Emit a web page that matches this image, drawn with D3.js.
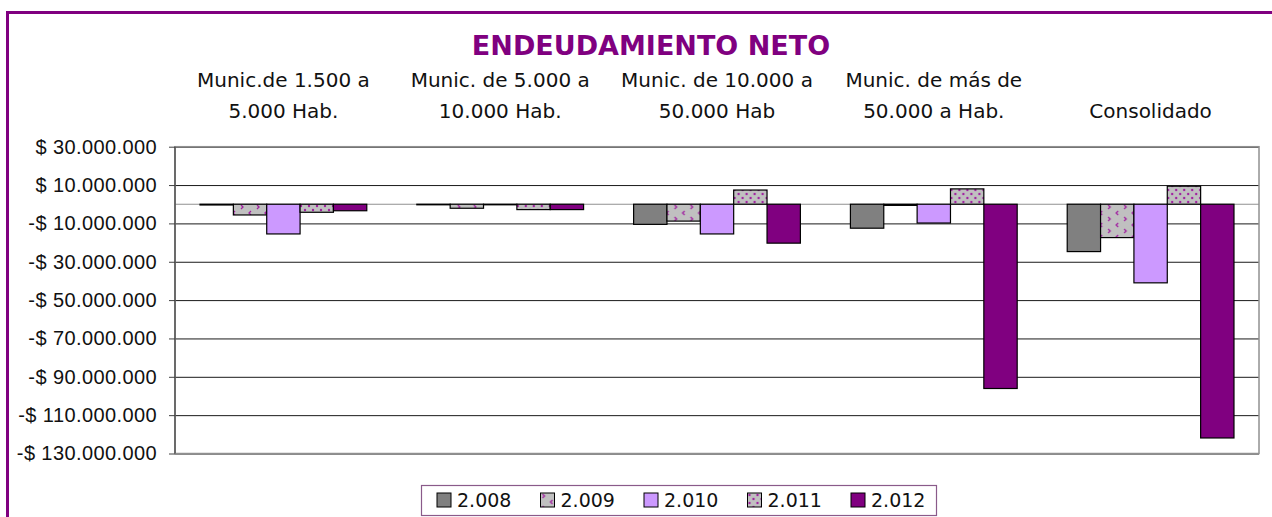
<!DOCTYPE html>
<html>
<head>
<meta charset="utf-8">
<script src="https://cdn.jsdelivr.net/npm/d3@7"></script>
<style>
  body { margin: 0; background: #fff; }
  svg { display: block; font-family: "DejaVu Sans", sans-serif; }
</style>
</head>
<body>
<svg id="chart" width="1272" height="517"></svg>
<script>
// ============
// DATA
// ============

const categories = [
  ["Munic.de 1.500 a", "5.000 Hab."],
  ["Munic. de 5.000 a", "10.000 Hab."],
  ["Munic. de 10.000 a", "50.000 Hab"],
  ["Munic. de más de", "50.000 a Hab."],
  ["", "Consolidado"]
];
const years = ["2.008", "2.009", "2.010", "2.011", "2.012"];

// values in millions, one array per year
const v2008 = [-0.4, -0.3, -10.5, -12.5, -24.7];
const v2009 = [-5.6, -2.1, -8.8, -0.6, -17.4];
const v2010 = [-15.5, -0.3, -15.5, -9.8, -41.0];
const v2011 = [-4.2, -2.8, 7.4, 8.0, 9.4];
const v2012 = [-3.4, -2.8, -20.3, -96.1, -121.9];
const series = [v2008, v2009, v2010, v2011, v2012];

const yTicks = [30, 10, -10, -30, -50, -70, -90, -110, -130];

const fills = ["#808080", "url(#pat2009)", "#cc99ff", "url(#pat2011)", "#800080"];

// ============
// SETUP
// ============

const svg = d3.select("#chart");
const plot = { left: 175, right: 1259, top: 146.7, bottom: 453.5 };

// purple frame (open to the right and bottom)
svg.append("rect")
  .attr("x", 7.5).attr("y", 12.5)
  .attr("width", 1300).attr("height", 600)
  .attr("fill", "none")
  .attr("stroke", "#800080")
  .attr("stroke-width", 3);

// patterns
const defs = svg.append("defs");

const p9 = defs.append("pattern")
  .attr("id", "pat2009")
  .attr("patternUnits", "userSpaceOnUse")
  .attr("width", 16).attr("height", 12);
p9.append("rect").attr("width", 16).attr("height", 12).attr("fill", "#c0c0c0");
p9.append("path").attr("d", "M2,1 L4,3 L2,5").attr("fill", "none").attr("stroke", "#a020a0").attr("stroke-width", 1.3);
p9.append("path").attr("d", "M12,7 L10,9 L12,11").attr("fill", "none").attr("stroke", "#a020a0").attr("stroke-width", 1.3);

const p11 = defs.append("pattern")
  .attr("id", "pat2011")
  .attr("patternUnits", "userSpaceOnUse")
  .attr("width", 8).attr("height", 8);
p11.append("rect").attr("width", 8).attr("height", 8).attr("fill", "#c0c0c0");
p11.append("circle").attr("cx", 2).attr("cy", 2).attr("r", 1.2).attr("fill", "#a020a0");
p11.append("circle").attr("cx", 6).attr("cy", 6).attr("r", 1.2).attr("fill", "#a020a0");

// ============
// TITLE
// ============

svg.append("text")
  .attr("x", 651).attr("y", 55)
  .attr("text-anchor", "middle")
  .attr("font-size", 27)
  .attr("font-weight", "bold")
  .attr("fill", "#800080")
  .text("ENDEUDAMIENTO NETO");

// ============
// SCALES
// ============

const x0 = d3.scaleBand()
  .domain(d3.range(categories.length))
  .range([plot.left, plot.right]);

const x1 = d3.scaleBand()
  .domain(years)
  .range([0, x0.bandwidth()])
  .paddingInner(0)
  .paddingOuter(0.75);

const y = d3.scaleLinear()
  .domain([-130, 30])
  .range([plot.bottom, plot.top]);

function money(d) {
  const s = d3.format(",")(Math.abs(d) * 1e6).replace(/,/g, ".");
  return (d < 0 ? "-$ " : "$ ") + s;
}

// ============
// GRIDLINES + AXIS
// ============

svg.append("g")
  .attr("transform", "translate(" + plot.left + ",0)")
  .call(d3.axisLeft(y).tickValues(yTicks).tickSize(-(plot.right - plot.left)).tickFormat(""))
  .call(g => g.select(".domain").remove())
  .call(g => g.selectAll("line").attr("stroke", "#1a1a1a").attr("stroke-width", 1));

// plot border
svg.append("rect")
  .attr("x", plot.left).attr("y", plot.top)
  .attr("width", plot.right - plot.left).attr("height", plot.bottom - plot.top)
  .attr("fill", "none").attr("stroke", "#909090").attr("stroke-width", 1.5);

// zero line
svg.append("line")
  .attr("x1", plot.left).attr("x2", plot.right)
  .attr("y1", y(0)).attr("y2", y(0))
  .attr("stroke", "#909090").attr("stroke-width", 1.2);

const yAxis = svg.append("g")
  .attr("transform", "translate(" + plot.left + ",0)")
  .call(d3.axisLeft(y).tickValues(yTicks).tickSize(6).tickPadding(12).tickFormat(money));
yAxis.select(".domain").attr("stroke", "#404040").attr("stroke-width", 1.2).attr("d", "M0," + plot.top + "V" + plot.bottom);
yAxis.selectAll("line").attr("stroke", "#404040");
yAxis.selectAll("text")
  .attr("font-size", 20)
  .attr("letter-spacing", 0.4)
  .attr("fill", "#111");

// ============
// BARS
// ============

const groups = svg.append("g")
  .selectAll("g")
  .data(categories.map((c, i) => i))
  .join("g")
  .attr("transform", i => "translate(" + x0(i) + ",0)");

groups.selectAll("rect")
  .data(i => years.map((yr, k) => ({ k: k, yr: yr, v: series[k][i] })))
  .join("rect")
  .attr("x", d => x1(d.yr))
  .attr("width", x1.bandwidth())
  .attr("y", d => y(Math.max(0, d.v)))
  .attr("height", d => Math.abs(y(d.v) - y(0)))
  .attr("fill", d => fills[d.k])
  .attr("stroke", "#000")
  .attr("stroke-width", 1.2);

// ============
// CATEGORY LABELS (on top)
// ============

const catLabels = svg.append("g")
  .selectAll("text")
  .data(categories)
  .join("text")
  .attr("text-anchor", "middle")
  .attr("font-size", 20)
  .attr("fill", "#111");

catLabels.each(function(c, i) {
  const t = d3.select(this);
  const cx = x0(i) + x0.bandwidth() / 2;
  t.append("tspan").attr("x", cx).attr("y", 87).text(c[0]);
  t.append("tspan").attr("x", cx).attr("y", 118).text(c[1]);
});

// ============
// LEGEND
// ============

svg.append("rect")
  .attr("x", 421.5).attr("y", 485.5)
  .attr("width", 515).attr("height", 30)
  .attr("fill", "#fff")
  .attr("stroke", "#8a5a8a")
  .attr("stroke-width", 1.2);

const legendX = d3.scalePoint()
  .domain(years)
  .range([437, 851]);

const leg = svg.append("g")
  .selectAll("g")
  .data(years)
  .join("g")
  .attr("transform", d => "translate(" + legendX(d) + ",493)");

leg.append("rect")
  .attr("width", 14).attr("height", 14)
  .attr("fill", (d, k) => fills[k])
  .attr("stroke", "#000");

leg.append("text")
  .attr("x", 20).attr("y", 14)
  .attr("font-size", 19)
  .attr("fill", "#111")
  .text(d => d);
</script>
</body>
</html>
